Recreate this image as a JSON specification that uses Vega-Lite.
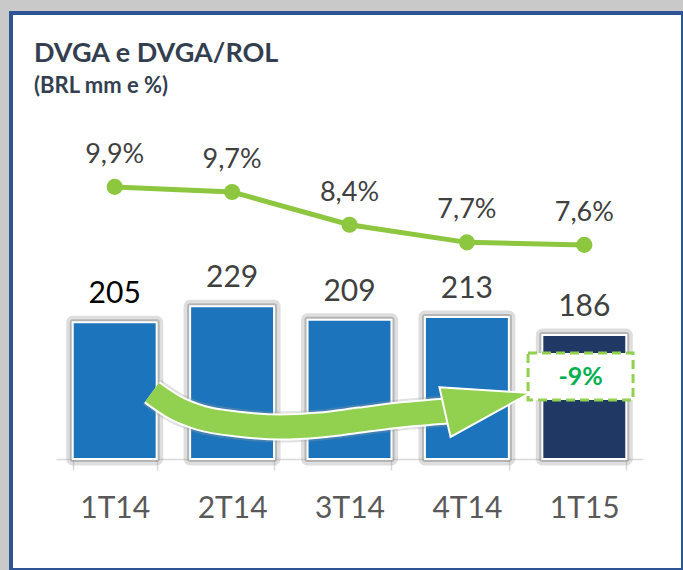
{
  "$schema": "https://vega.github.io/schema/vega-lite/v6.json",
  "width": 672,
  "height": 557,
  "autosize": {"type": "none"},
  "padding": {"left": 11, "top": 13, "right": 0, "bottom": 0},
  "background": "#c9c9c9",
  "config": {
    "font": "Lato",
    "view": {"fill": "white", "stroke": "#2F5496", "strokeWidth": 4}
  },
  "title": {
    "text": "DVGA e DVGA/ROL",
    "subtitle": "(BRL mm e %)",
    "anchor": "start",
    "frame": "group",
    "offset": -85,
    "dx": 23,
    "font": "Lato",
    "fontSize": 27,
    "fontWeight": "bold",
    "color": "#333F50",
    "subtitleFont": "Lato",
    "subtitleFontSize": 22,
    "subtitleFontWeight": "bold",
    "subtitleColor": "#333F50",
    "subtitlePadding": 8
  },
  "datasets": {
    "dados": [
      {"q": "1T14", "dvga": 205, "margem": 9.9, "margem_txt": "9,9%"},
      {"q": "2T14", "dvga": 229, "margem": 9.7, "margem_txt": "9,7%"},
      {"q": "3T14", "dvga": 209, "margem": 8.4, "margem_txt": "8,4%"},
      {"q": "4T14", "dvga": 213, "margem": 7.7, "margem_txt": "7,7%"},
      {"q": "1T15", "dvga": 186, "margem": 7.6, "margem_txt": "7,6%"}
    ],
    "seta": [
      {"u": 0.818, "v": 100},
      {"u": 1.014, "v": 77},
      {"u": 1.227, "v": 62},
      {"u": 1.567, "v": 52},
      {"u": 1.908, "v": 48},
      {"u": 2.249, "v": 51},
      {"u": 2.589, "v": 58.5},
      {"u": 2.93, "v": 66},
      {"u": 3.34, "v": 72}
    ],
    "ponta": [{"u": 3.675, "v": 84.7}],
    "caixa": [{"u": 4.468, "v": 123.7, "txt": "-9%"}]
  },
  "layer": [
    {
      "data": {"name": "dados"},
      "encoding": {
        "x": {
          "field": "q",
          "type": "nominal",
          "sort": null,
          "scale": {"range": [45, 632], "paddingInner": 0.285, "paddingOuter": 0.1425},
          "axis": {
            "title": null,
            "labelAngle": 0,
            "offset": -111,
            "domainColor": "#d9d9d9",
            "domainWidth": 1.5,
            "tickColor": "#d9d9d9",
            "tickWidth": 1.5,
            "tickSize": 11,
            "tickBand": "extent",
            "labelFont": "Lato",
            "labelFontSize": 30,
            "labelColor": "#595959",
            "labelPadding": 23
          }
        },
        "y": {
          "field": "dvga",
          "type": "quantitative",
          "scale": {"domain": [0, 525], "range": [446, 96], "nice": false, "zero": true},
          "axis": null
        }
      },
      "layer": [
        {"mark": {"type": "bar", "color": "#8c8c8c", "opacity": 0.28, "stroke": "#8c8c8c", "strokeWidth": 13, "strokeJoin": "round"}},
        {"mark": {"type": "bar", "color": "#7a7a7a", "opacity": 0.4, "stroke": "#7a7a7a", "strokeWidth": 6, "strokeJoin": "round"}},
        {
          "mark": {"type": "bar", "stroke": "white", "strokeWidth": 2},
          "encoding": {
            "color": {
              "condition": {"test": "datum.q === '1T15'", "value": "#1F3864"},
              "value": "#1C75BC"
            }
          }
        },
        {
          "mark": {"type": "text", "baseline": "alphabetic", "dy": -19, "fontSize": 30, "font": "Lato"},
          "encoding": {
            "text": {"field": "dvga"},
            "color": {
              "condition": {"test": "datum.q === '1T14'", "value": "#000000"},
              "value": "#404040"
            }
          }
        }
      ]
    },
    {
      "data": {"name": "dados"},
      "encoding": {
        "x": {
          "field": "q",
          "type": "nominal",
          "sort": null,
          "scale": {"range": [45, 632], "paddingInner": 0.285, "paddingOuter": 0.1425},
          "axis": null
        },
        "y": {
          "field": "margem",
          "type": "quantitative",
          "scale": {"domain": [-0.894, 12.99], "range": [446, 96], "nice": false, "zero": false},
          "axis": null
        }
      },
      "layer": [
        {"mark": {"type": "line", "color": "#8DC63F", "strokeWidth": 5}},
        {"mark": {"type": "point", "filled": true, "color": "#8DC63F", "size": 260, "opacity": 1}},
        {
          "mark": {"type": "text", "baseline": "alphabetic", "dy": -24, "fontSize": 27, "font": "Lato", "color": "#404040"},
          "encoding": {"text": {"field": "margem_txt"}}
        }
      ]
    },
    {
      "data": {"name": "seta"},
      "encoding": {
        "x": {"field": "u", "type": "quantitative", "scale": {"domain": [0, 5], "range": [45, 632], "nice": false, "zero": false}, "axis": null},
        "y": {"field": "v", "type": "quantitative", "scale": {"domain": [0, 525], "range": [446, 96], "nice": false, "zero": false}, "axis": null}
      },
      "layer": [
        {"mark": {"type": "line", "color": "#9a9a9a", "strokeWidth": 31, "strokeCap": "butt", "opacity": 0.3, "interpolate": "monotone"}},
        {"mark": {"type": "line", "color": "white", "strokeWidth": 27, "strokeCap": "butt", "interpolate": "monotone"}},
        {"mark": {"type": "line", "color": "#92D050", "strokeWidth": 23, "strokeCap": "butt", "interpolate": "monotone"}}
      ]
    },
    {
      "data": {"name": "ponta"},
      "mark": {
        "type": "point",
        "shape": "M-1,-0.586L1,0L-1,0.586Z",
        "size": 7569,
        "angle": -12.6,
        "filled": true,
        "fill": "#92D050",
        "stroke": "white",
        "strokeWidth": 2,
        "opacity": 1
      },
      "encoding": {
        "x": {"field": "u", "type": "quantitative", "scale": {"domain": [0, 5], "range": [45, 632], "nice": false, "zero": false}, "axis": null},
        "y": {"field": "v", "type": "quantitative", "scale": {"domain": [0, 525], "range": [446, 96], "nice": false, "zero": false}, "axis": null}
      }
    },
    {
      "data": {"name": "caixa"},
      "encoding": {
        "x": {"field": "u", "type": "quantitative", "scale": {"domain": [0, 5], "range": [45, 632], "nice": false, "zero": false}, "axis": null},
        "y": {"field": "v", "type": "quantitative", "scale": {"domain": [0, 525], "range": [446, 96], "nice": false, "zero": false}, "axis": null}
      },
      "layer": [
        {
          "mark": {
            "type": "point",
            "shape": "M-1,-0.448L1,-0.448L1,0.448L-1,0.448Z",
            "size": 11025,
            "filled": true,
            "fill": "white",
            "stroke": "#92D050",
            "strokeWidth": 3,
            "strokeDash": [9, 5],
            "opacity": 1
          }
        },
        {
          "mark": {"type": "text", "baseline": "middle", "fontSize": 25, "fontWeight": "bold", "font": "Lato", "color": "#00B050"},
          "encoding": {"text": {"field": "txt"}}
        }
      ]
    }
  ],
  "resolve": {"scale": {"x": "independent", "y": "independent"}}
}
